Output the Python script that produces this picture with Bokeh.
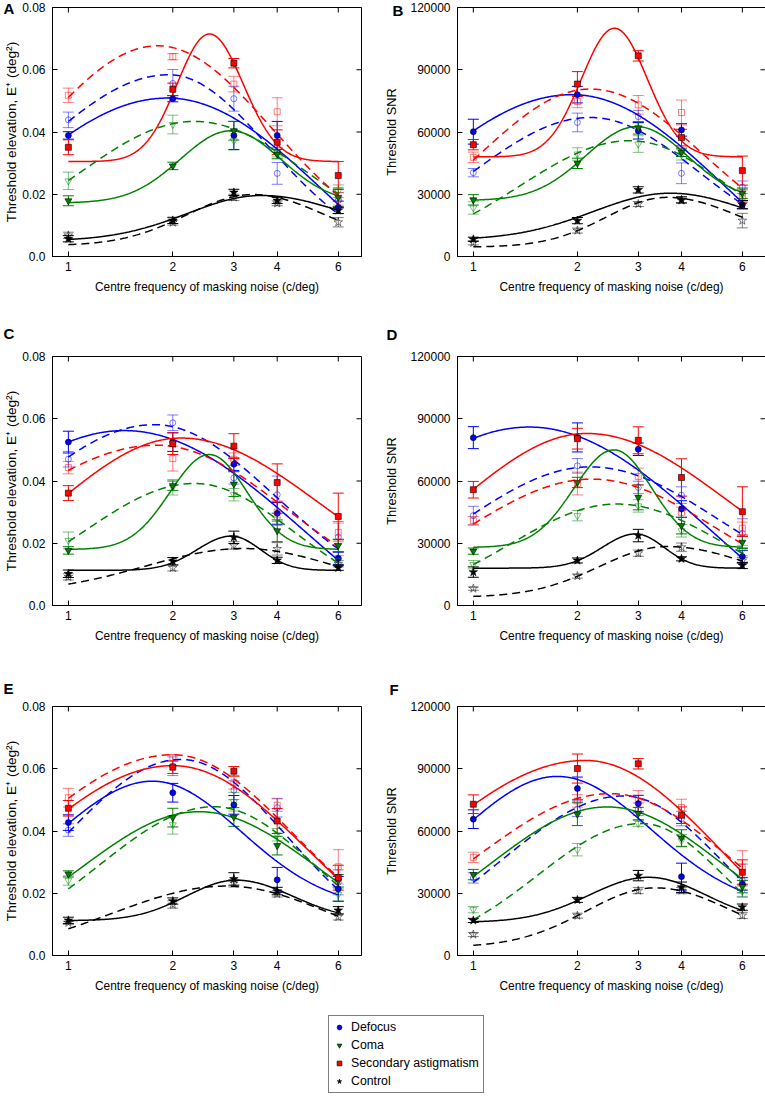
import numpy as np
from bokeh.plotting import figure
from bokeh.models import (Range1d, FixedTicker, NumeralTickFormatter,
                          Whisker, TeeHead, ColumnDataSource, Legend, LegendItem)
from bokeh.layouts import row, column
from bokeh.embed import file_html
from bokeh.resources import INLINE

# ---------------- data ----------------
X = [1, 2, 3, 4, 6]
X_TICKS = [1, 2, 3, 4, 6]
ELEV_TICKS = [0.0, 0.02, 0.04, 0.06, 0.08]
SNR_TICKS = [0, 30000, 60000, 90000, 120000]
CONDITIONS = ["Defocus", "Coma", "Secondary astigmatism", "Control"]
X_LABEL = "Centre frequency of masking noise (c/deg)"
ELEV_LABEL = "Threshold elevation, E\u207a (deg\u00b2)"
SNR_LABEL = "Threshold SNR"

# fit parameters: [baseline, amplitude, centre (c/deg), width left, width right] (log-Gaussian)
# ---- Panel A (threshold elevation)
A_DEF = [0.0389, 0.0507, 0.0389, 0.0389, 0.0158]; A_DEF_ERR = [0.0012, 0.0010, 0.0045, 0.0045, 0.0020]
A_DEF_OPEN = [0.0439, 0.0556, 0.0507, 0.0267, 0.0180]; A_DEF_OPEN_ERR = [0.0025, 0.0045, 0.0040, 0.0035, 0.0025]
A_COMA = [0.0179, 0.0291, 0.0404, 0.0329, 0.0190]; A_COMA_ERR = [0.0016, 0.0012, 0.0030, 0.0015, 0.0030]
A_COMA_OPEN = [0.0243, 0.0424, 0.0372, 0.0335, 0.0210]; A_COMA_OPEN_ERR = [0.0028, 0.0030, 0.0030, 0.0015, 0.0020]
A_SEC = [0.0351, 0.0537, 0.0621, 0.0367, 0.0260]; A_SEC_ERR = [0.0024, 0.0020, 0.0015, 0.0040, 0.0045]
A_SEC_OPEN = [0.0518, 0.0642, 0.0554, 0.0465, 0.0185]; A_SEC_OPEN_ERR = [0.0023, 0.0010, 0.0025, 0.0045, 0.0020]
A_CTRL = [0.0057, 0.0116, 0.0206, 0.0180, 0.0148]; A_CTRL_ERR = [0.0010, 0.0010, 0.0010, 0.0010, 0.0010]
A_CTRL_OPEN = [0.0068, 0.0109, 0.0190, 0.0171, 0.0110]; A_CTRL_OPEN_ERR = [0.0010, 0.0008, 0.0010, 0.0008, 0.0015]
A_DEF_FIT = [-0.03, 0.0809, 1.93, 1.167, 1.082]; A_DEF_OPEN_FIT = [0.0, 0.0584, 1.95, 0.866, 0.660]
A_COMA_FIT = [0.0172, 0.0232, 2.94, 0.335, 0.332]; A_COMA_OPEN_FIT = [0.0, 0.0434, 2.31, 0.780, 0.769]
A_SEC_FIT = [0.0305, 0.0410, 2.55, 0.215, 0.225]; A_SEC_OPEN_FIT = [0.0, 0.0677, 1.81, 0.791, 0.761]
A_CTRL_FIT = [0.0050, 0.0146, 3.60, 0.489, 0.572]; A_CTRL_OPEN_FIT = [0.0035, 0.0164, 3.40, 0.435, 0.478]

# ---- Panel B (threshold SNR)
B_DEF = [60150, 78000, 60600, 61000, 25000]; B_DEF_ERR = [6000, 4000, 4000, 3000, 2000]
B_DEF_OPEN = [40400, 64600, 67400, 40100, 33400]; B_DEF_OPEN_ERR = [2000, 4500, 3000, 5000, 3000]
B_COMA = [27300, 44900, 62000, 50200, 30500]; B_COMA_ERR = [2500, 2500, 3000, 2000, 2500]
B_COMA_OPEN = [23400, 49400, 54200, 49000, 29400]; B_COMA_OPEN_ERR = [3000, 3000, 4000, 2500, 3000]
B_SEC = [53900, 83100, 96700, 57300, 41400]; B_SEC_ERR = [2500, 6000, 2500, 4000, 7000]
B_SEC_OPEN = [47800, 74700, 73100, 69400, 29000]; B_SEC_OPEN_ERR = [2500, 3000, 4500, 6000, 3000]
B_CTRL = [8300, 17300, 32100, 27300, 25000]; B_CTRL_ERR = [1000, 1500, 1500, 1500, 2000]
B_CTRL_OPEN = [6600, 12500, 25300, 27000, 17300]; B_CTRL_OPEN_ERR = [1000, 1200, 1200, 1200, 3500]
B_DEF_FIT = [-40000, 118000, 1.93, 1.161, 1.053]; B_DEF_OPEN_FIT = [0, 67000, 2.18, 0.786, 0.725]
B_COMA_FIT = [27000, 35600, 2.97, 0.339, 0.335]; B_COMA_OPEN_FIT = [0, 55800, 2.84, 0.738, 0.660]
B_SEC_FIT = [48000, 62000, 2.56, 0.220, 0.219]; B_SEC_OPEN_FIT = [0, 80700, 2.18, 0.742, 0.757]
B_CTRL_FIT = [8000, 22500, 3.71, 0.513, 0.552]; B_CTRL_OPEN_FIT = [4500, 24000, 3.63, 0.402, 0.497]

# ---- Panel C (threshold elevation)
C_DEF = [0.0525, 0.0525, 0.0454, 0.0296, 0.0152]; C_DEF_ERR = [0.0035, 0.0030, 0.0020, 0.0035, 0.0020]
C_DEF_OPEN = [0.0470, 0.0587, 0.0410, 0.0356, 0.0220]; C_DEF_OPEN_ERR = [0.0025, 0.0025, 0.0020, 0.0060, 0.0050]
C_COMA = [0.0177, 0.0385, 0.0390, 0.0240, 0.0193]; C_COMA_ERR = [0.0012, 0.0015, 0.0040, 0.0035, 0.0020]
C_COMA_OPEN = [0.0209, 0.0380, 0.0356, 0.0277, 0.0145]; C_COMA_OPEN_ERR = [0.0027, 0.0025, 0.0020, 0.0020, 0.0015]
C_SEC = [0.0361, 0.0520, 0.0512, 0.0395, 0.0286]; C_SEC_ERR = [0.0024, 0.0035, 0.0040, 0.0060, 0.0075]
C_SEC_OPEN = [0.0443, 0.0472, 0.0470, 0.0300, 0.0235]; C_SEC_OPEN_ERR = [0.0020, 0.0040, 0.0020, 0.0030, 0.0030]
C_CTRL = [0.0102, 0.0142, 0.0219, 0.0145, 0.0121]; C_CTRL_ERR = [0.0012, 0.0012, 0.0020, 0.0010, 0.0008]
C_CTRL_OPEN = [0.0092, 0.0121, 0.0193, 0.0182, 0.0134]; C_CTRL_OPEN_ERR = [0.0010, 0.0010, 0.0012, 0.0020, 0.0010]
C_DEF_FIT = [-0.03, 0.0862, 1.45, 1.256, 1.235]; C_DEF_OPEN_FIT = [0.0, 0.0581, 1.77, 0.909, 0.801]
C_COMA_FIT = [0.018, 0.0305, 2.55, 0.260, 0.250]; C_COMA_OPEN_FIT = [0.0, 0.0392, 2.31, 0.735, 0.658]
C_SEC_FIT = [0.0, 0.0538, 2.11, 0.833, 0.927]; C_SEC_OPEN_FIT = [0.0, 0.0515, 1.80, 1.005, 0.853]
C_CTRL_FIT = [0.0113, 0.0110, 2.95, 0.226, 0.194]; C_CTRL_OPEN_FIT = [0.004, 0.0143, 3.20, 0.650, 0.617]

# ---- Panel D (threshold SNR)
D_DEF = [80900, 81000, 75300, 46500, 23600]; D_DEF_ERR = [5300, 7000, 3000, 4000, 3000]
D_DEF_OPEN = [43300, 67300, 56900, 53200, 34800]; D_DEF_OPEN_ERR = [4500, 3500, 3000, 4000, 7000]
D_COMA = [26200, 59300, 52100, 38500, 30500]; D_COMA_ERR = [1500, 2500, 6000, 4000, 3000]
D_COMA_OPEN = [19700, 43300, 48000, 36000, 26500]; D_COMA_OPEN_ERR = [2000, 2500, 3000, 3000, 2500]
D_SEC = [55800, 80400, 79600, 61700, 45200]; D_SEC_ERR = [4000, 5000, 6500, 9000, 12000]
D_SEC_OPEN = [40900, 58800, 62200, 44900, 37200]; D_SEC_OPEN_ERR = [2000, 5500, 4000, 2500, 3000]
D_CTRL = [16100, 21700, 33700, 22500, 19300]; D_CTRL_ERR = [2500, 1200, 3000, 1000, 1500]
D_CTRL_OPEN = [8150, 14200, 25200, 28100, 21700]; D_CTRL_OPEN_ERR = [800, 1000, 1500, 2000, 1500]
D_DEF_FIT = [-45000, 131000, 1.45, 1.270, 1.238]; D_DEF_OPEN_FIT = [0, 66800, 2.18, 0.855, 0.875]
D_COMA_FIT = [28000, 47000, 2.55, 0.266, 0.253]; D_COMA_OPEN_FIT = [0, 48900, 2.60, 0.709, 0.726]
D_SEC_FIT = [0, 82900, 2.13, 0.853, 0.944]; D_SEC_OPEN_FIT = [0, 60900, 2.20, 0.842, 0.837]
D_CTRL_FIT = [18000, 16500, 2.95, 0.223, 0.189]; D_CTRL_OPEN_FIT = [4000, 24400, 3.63, 0.449, 0.611]

# ---- Panel E (threshold elevation)
E_DEF = [0.0427, 0.0523, 0.0484, 0.0243, 0.0214]; E_DEF_ERR = [0.0025, 0.0030, 0.0030, 0.0040, 0.0040]
E_DEF_OPEN = [0.0403, 0.0608, 0.0531, 0.0475, 0.0235]; E_DEF_OPEN_ERR = [0.0020, 0.0030, 0.0030, 0.0030, 0.0040]
E_COMA = [0.0262, 0.0443, 0.0445, 0.0353, 0.0240]; E_COMA_ERR = [0.0010, 0.0030, 0.0030, 0.0030, 0.0020]
E_COMA_OPEN = [0.0241, 0.0420, 0.0494, 0.0388, 0.0196]; E_COMA_OPEN_ERR = [0.0015, 0.0030, 0.0030, 0.0020, 0.0020]
E_SEC = [0.0473, 0.0605, 0.0592, 0.0432, 0.0250]; E_SEC_ERR = [0.0025, 0.0020, 0.0015, 0.0040, 0.0040]
E_SEC_OPEN = [0.0507, 0.0635, 0.0555, 0.0483, 0.0285]; E_SEC_OPEN_ERR = [0.0030, 0.0010, 0.0020, 0.0020, 0.0055]
E_CTRL = [0.0113, 0.0175, 0.0246, 0.0207, 0.0145]; E_CTRL_ERR = [0.0010, 0.0010, 0.0020, 0.0012, 0.0012]
E_CTRL_OPEN = [0.0105, 0.0164, 0.0232, 0.0198, 0.0124]; E_CTRL_OPEN_ERR = [0.0005, 0.0012, 0.0012, 0.0010, 0.0010]
E_DEF_FIT = [0.015, 0.041, 1.75, 0.624, 0.586]; E_DEF_OPEN_FIT = [0.0, 0.063, 2.11, 0.773, 0.707]
E_COMA_FIT = [0.0, 0.0462, 2.38, 0.787, 0.795]; E_COMA_OPEN_FIT = [0.0, 0.0478, 2.63, 0.763, 0.670]
E_SEC_FIT = [-0.01, 0.071, 2.00, 1.046, 0.916]; E_SEC_OPEN_FIT = [0.0, 0.0645, 2.00, 0.991, 0.800]
E_CTRL_FIT = [0.0112, 0.013, 3.05, 0.332, 0.373]; E_CTRL_OPEN_FIT = [0.0, 0.0223, 2.85, 0.758, 0.696]

# ---- Panel F (threshold SNR)
F_DEF = [65700, 80500, 73200, 38000, 34500]; F_DEF_ERR = [4500, 5500, 4000, 6500, 3000]
F_DEF_OPEN = [37400, 70500, 70500, 66000, 36100]; F_DEF_OPEN_ERR = [2500, 3500, 3000, 3500, 8000]
F_COMA = [39000, 68100, 68400, 56600, 33200]; F_COMA_ERR = [2500, 5500, 3000, 4000, 3000]
F_COMA_OPEN = [22100, 51000, 63600, 55300, 31000]; F_COMA_OPEN_ERR = [1500, 3000, 1500, 3000, 2500]
F_SEC = [72900, 90100, 92400, 67600, 40100]; F_SEC_ERR = [4500, 7000, 2500, 4000, 6000]
F_SEC_OPEN = [47300, 74500, 74500, 71300, 42500]; F_SEC_OPEN_ERR = [2500, 3000, 5000, 4000, 8000]
F_CTRL = [16900, 26800, 38500, 32900, 23300]; F_CTRL_ERR = [1000, 1200, 2500, 2500, 1500]
F_CTRL_OPEN = [10100, 19200, 31300, 31300, 19300]; F_CTRL_OPEN_ERR = [1000, 1200, 1500, 1500, 1500]
F_DEF_FIT = [22000, 64300, 1.75, 0.631, 0.621]; F_DEF_OPEN_FIT = [0, 76900, 2.72, 0.801, 0.642]
F_COMA_FIT = [0, 71600, 2.44, 0.7925, 0.7805]; F_COMA_OPEN_FIT = [0, 63600, 3.07, 0.695, 0.547]
F_SEC_FIT = [-20000, 114000, 2.11, 1.155, 0.924]; F_SEC_OPEN_FIT = [0, 78000, 2.49, 0.897, 0.793]
F_CTRL_FIT = [16000, 21700, 3.21, 0.393, 0.383]; F_CTRL_OPEN_FIT = [4000, 28600, 3.36, 0.462, 0.521]

# ---------------- styling ----------------
FONT = "Liberation Sans"
X_MIN, X_MAX = 0.9, 7.0
FRAME_H = 249
LEFT_W = 381                         # width of the left-column panel figures
FRAME_TOPS = {"A": 7, "B": 7, "C": 356, "D": 356, "E": 706, "F": 706}
COND_KEYS = ["DEF", "COMA", "SEC", "CTRL"]
COLORS = {"DEF": "#0000ff", "COMA": "#008000", "SEC": "#ff0000", "CTRL": "#000000"}
MARKERS = {"DEF": ("circle", 6), "COMA": ("inverted_triangle", 7), "SEC": ("square", 6), "CTRL": ("star", 9)}
# panel letter positions on the page (px: left, cap top)
PANEL_LABEL_POS = {"A": (3, 3), "B": (388, 5), "C": (3, 328), "D": (382, 329), "E": (3, 683), "F": (385, 684)}

G = globals()


def fit_curve(params, xs):
    base, amp, c, wl, wr = params
    d = np.log(xs / c)
    w = np.where(xs < c, wl, wr)
    return base + amp * np.exp(-0.5 * (d / w) ** 2)


def make_panel(letter, is_snr, left_col, top, bottom):
    if left_col:
        mbl, mbr, fw = 52, 20, 309
    else:
        mbl, mbr, fw = 72, 3, 308
    ticks = SNR_TICKS if is_snr else ELEV_TICKS
    ymax = ticks[-1]
    p = figure(x_axis_type="log", x_range=Range1d(X_MIN, X_MAX), y_range=Range1d(0, ymax),
               frame_width=fw, frame_height=FRAME_H, min_border_left=mbl, min_border_right=mbr,
               min_border_top=top, min_border_bottom=bottom,
               output_backend="svg", toolbar_location=None)
    p.outline_line_color = "black"
    p.outline_line_width = 1
    p.grid.visible = False
    p.background_fill_color = "white"
    p.border_fill_color = "white"

    p.xaxis.ticker = FixedTicker(ticks=X_TICKS)
    p.yaxis.ticker = FixedTicker(ticks=ticks)
    p.xaxis.formatter = NumeralTickFormatter(format="0")
    p.yaxis.formatter = NumeralTickFormatter(format="0" if is_snr else "0.0[0]")
    for ax in (p.xaxis[0], p.yaxis[0]):
        ax.major_tick_in = 5
        ax.major_tick_out = 0
        ax.minor_tick_line_color = None
        ax.axis_line_color = "black"
        ax.major_label_text_font = FONT
        ax.major_label_text_font_size = "12px"
        ax.major_label_text_color = "black"
        ax.axis_label_text_font = FONT
        ax.axis_label_text_font_style = "normal"
        ax.axis_label_text_color = "black"
    p.xaxis.axis_label = X_LABEL
    p.xaxis.axis_label_text_font_size = "11.9px"
    p.xaxis.major_label_standoff = 5
    p.xaxis.axis_label_standoff = 6
    p.yaxis.axis_label = SNR_LABEL if is_snr else ELEV_LABEL
    p.yaxis.axis_label_text_font_size = "12.8px" if is_snr else "13.6px"
    p.yaxis.major_label_standoff = 7
    p.yaxis.axis_label_standoff = 8 if is_snr else 0

    # inward tick marks on the right and top edges of the box
    p.ray(x=[X_MAX] * len(ticks), y=ticks, length=5, length_units="screen", angle=np.pi,
          line_color="black", line_width=1)
    p.ray(x=X_TICKS, y=[ymax] * len(X_TICKS), length=5, length_units="screen", angle=-np.pi / 2,
          line_color="black", line_width=1)

    xs = np.exp(np.linspace(0, np.log(6), 300))
    # fitted curves
    for key in COND_KEYS:
        col = COLORS[key]
        p.line(xs, fit_curve(G[f"{letter}_{key}_OPEN_FIT"], xs), line_color=col,
               line_width=1.5, line_dash="8 5")
        p.line(xs, fit_curve(G[f"{letter}_{key}_FIT"], xs), line_color=col, line_width=1.5)
    # error bars and markers
    for key in COND_KEYS:
        col = COLORS[key]
        mk, sz = MARKERS[key]
        for suffix, alpha, filled in (("_OPEN", 0.5, False), ("", 1.0, True)):
            vals = np.array(G[f"{letter}_{key}{suffix}"], dtype=float)
            errs = np.array(G[f"{letter}_{key}{suffix}_ERR"], dtype=float)
            src = ColumnDataSource(dict(x=X, y=vals, lower=vals - errs, upper=vals + errs))
            w = Whisker(source=src, base="x", lower="lower", upper="upper", dimension="height",
                        line_color=col, line_alpha=alpha, line_width=1,
                        upper_head=TeeHead(size=11, line_color=col, line_alpha=alpha, line_width=1),
                        lower_head=TeeHead(size=11, line_color=col, line_alpha=alpha, line_width=1))
            p.add_layout(w)
            if filled:
                p.scatter("x", "y", source=src, marker=mk, size=sz, fill_color=col,
                          line_color="black", line_width=0.6)
            else:
                p.scatter("x", "y", source=src, marker=mk, size=sz, fill_color=None,
                          line_color=col, line_alpha=alpha, line_width=1)

    # panel letter as the figure title, bottom-anchored relative to the box top
    lx, ly = PANEL_LABEL_POS[letter]
    frame_left = mbl + (0 if left_col else LEFT_W)
    p.title.text = letter
    p.title.text_font = FONT
    p.title.text_font_style = "bold"
    p.title.text_font_size = "15px"
    p.title.text_color = "black"
    p.title.align = "left"
    p.title.offset = lx - frame_left
    p.title.vertical_align = "bottom"
    p.title.standoff = 2 * (FRAME_TOPS[letter] - 13 - ly)
    return p


pA = make_panel("A", False, True, 7, 48)
pB = make_panel("B", True, False, 7, 48)
pC = make_panel("C", False, True, 52, 49)
pD = make_panel("D", True, False, 52, 49)
pE = make_panel("E", False, True, 52, 50)
pF = make_panel("F", True, False, 52, 50)

# legend figure
pL = figure(width=764, height=89, x_range=Range1d(0, 1), y_range=Range1d(0, 1),
            x_axis_location=None, y_axis_location=None, min_border_left=0, min_border_right=0,
            min_border_top=0, min_border_bottom=0, output_backend="svg", toolbar_location=None)
pL.outline_line_color = None
pL.grid.visible = False
items = []
for key, name in zip(COND_KEYS, CONDITIONS):
    mk, sz = MARKERS[key]
    r = pL.scatter([-5], [-5], marker=mk, size=sz, fill_color=COLORS[key], line_color="black",
                   line_width=0.6)
    items.append(LegendItem(label=name, renderers=[r]))
leg = Legend(items=items, location=(328, 1), orientation="vertical",
             label_text_font=FONT, label_text_font_size="12.3px", label_text_color="black",
             glyph_width=12, glyph_height=14, label_height=14, label_standoff=6,
             spacing=4, padding=4, margin=0, border_line_color="black", border_line_width=1,
             background_fill_color="white", background_fill_alpha=1.0)
pL.add_layout(leg)

layout = column(row(pA, pB), row(pC, pD), row(pE, pF), pL)

open("out.html", "w").write(file_html(layout, INLINE))
